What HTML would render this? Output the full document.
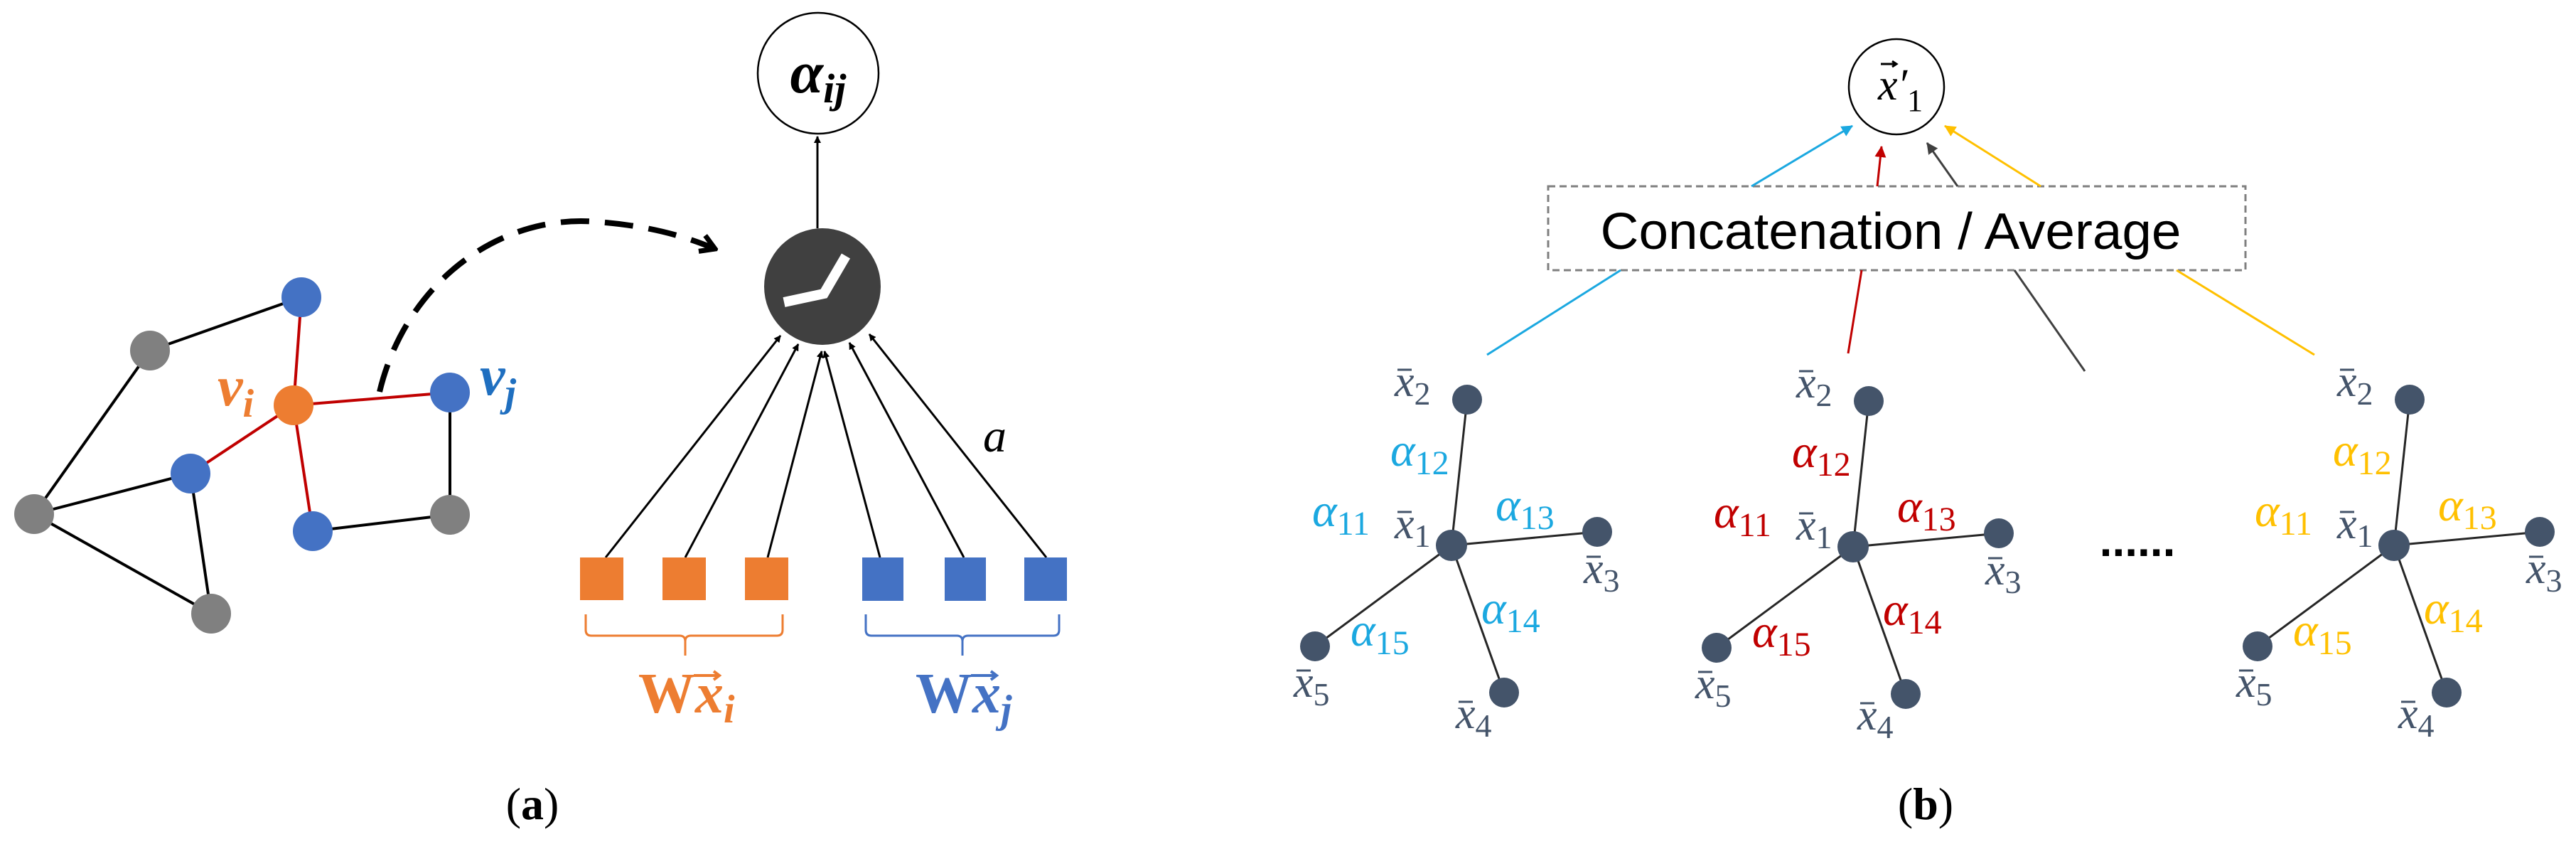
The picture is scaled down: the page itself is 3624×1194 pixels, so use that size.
<!DOCTYPE html>
<html><head><meta charset="utf-8"><style>
html,body{margin:0;padding:0;background:#fff;}
svg{display:block;}
</style></head><body>
<svg width="3624" height="1194" viewBox="0 0 3624 1194" xmlns="http://www.w3.org/2000/svg">
<defs>
<marker id="ak" markerWidth="10" markerHeight="10" refX="9" refY="5" orient="auto" markerUnits="userSpaceOnUse" viewBox="0 0 10 10"><path d="M0,0 L10,5 L0,10 z" fill="#000"/></marker>
<marker id="ab" markerWidth="16" markerHeight="16" refX="15" refY="8" orient="auto" markerUnits="userSpaceOnUse" viewBox="0 0 16 16"><path d="M0,0 L16,8 L0,16 z" fill="#1BA8E0"/></marker>
<marker id="ar" markerWidth="16" markerHeight="16" refX="15" refY="8" orient="auto" markerUnits="userSpaceOnUse" viewBox="0 0 16 16"><path d="M0,0 L16,8 L0,16 z" fill="#C00000"/></marker>
<marker id="ad" markerWidth="16" markerHeight="16" refX="15" refY="8" orient="auto" markerUnits="userSpaceOnUse" viewBox="0 0 16 16"><path d="M0,0 L16,8 L0,16 z" fill="#404040"/></marker>
<marker id="ay" markerWidth="16" markerHeight="16" refX="15" refY="8" orient="auto" markerUnits="userSpaceOnUse" viewBox="0 0 16 16"><path d="M0,0 L16,8 L0,16 z" fill="#FFC000"/></marker>
<marker id="ak2" markerWidth="30" markerHeight="30" refX="26" refY="15" orient="auto" markerUnits="userSpaceOnUse" viewBox="0 0 30 30"><path d="M6,3 L26,15 L6,27" fill="none" stroke="#000" stroke-width="7"/></marker>
</defs>

<!-- Panel (a) graph -->
<g stroke="#000" stroke-width="4">
<line x1="211" y1="493" x2="424" y2="418"/>
<line x1="211" y1="493" x2="48" y2="723"/>
<line x1="48" y1="723" x2="268" y2="666"/>
<line x1="48" y1="723" x2="297" y2="863"/>
<line x1="268" y1="666" x2="297" y2="863"/>
<line x1="440" y1="747" x2="633" y2="724"/>
<line x1="633" y1="552" x2="633" y2="724"/>
</g>
<g stroke="#C00000" stroke-width="4">
<line x1="413" y1="570" x2="424" y2="418"/>
<line x1="413" y1="570" x2="633" y2="552"/>
<line x1="413" y1="570" x2="268" y2="666"/>
<line x1="413" y1="570" x2="440" y2="747"/>
</g>
<g>
<circle cx="424" cy="418" r="28" fill="#4472C4"/>
<circle cx="211" cy="493" r="28" fill="#808080"/>
<circle cx="413" cy="570" r="28" fill="#ED7D31"/>
<circle cx="633" cy="552" r="28" fill="#4472C4"/>
<circle cx="268" cy="666" r="28" fill="#4472C4"/>
<circle cx="48" cy="723" r="28" fill="#808080"/>
<circle cx="440" cy="747" r="28" fill="#4472C4"/>
<circle cx="633" cy="724" r="28" fill="#808080"/>
<circle cx="297" cy="863" r="28" fill="#808080"/>
</g>
<text x="306" y="570" font-family="Liberation Serif, serif" font-style="italic" font-weight="bold" font-size="80" fill="#ED7D31">v<tspan font-size="56" dy="16">i</tspan></text>
<text x="675" y="555" font-family="Liberation Serif, serif" font-style="italic" font-weight="bold" font-size="80" fill="#1F6FC0">v<tspan font-size="56" dy="16">j</tspan></text>

<!-- dashed arc -->
<path d="M534,551 C570,400 700,300 840,312 C920,318 970,335 1006,350" fill="none" stroke="#000" stroke-width="8" stroke-dasharray="40,22" marker-end="url(#ak2)"/>

<!-- alpha_ij circle -->
<circle cx="1151" cy="103" r="85" fill="#fff" stroke="#000" stroke-width="2.5"/>
<text x="1151" y="130" text-anchor="middle" font-family="Liberation Serif, serif" font-style="italic" font-weight="bold" font-size="84" fill="#000">α<tspan font-size="58" dy="14">ij</tspan></text>
<line x1="1150" y1="321" x2="1150" y2="192" stroke="#000" stroke-width="3" marker-end="url(#ak)"/>

<!-- dark circle -->
<circle cx="1157" cy="403" r="82" fill="#404040"/>
<polyline points="1103,425 1159,413 1190,360" fill="none" stroke="#fff" stroke-width="14"/>

<!-- arrows from squares -->
<g stroke="#000" stroke-width="3" marker-end="url(#ak)">
<line x1="852" y1="784" x2="1098" y2="472"/>
<line x1="964" y1="784" x2="1123" y2="484"/>
<line x1="1080" y1="784" x2="1156" y2="494"/>
<line x1="1238" y1="784" x2="1160" y2="494"/>
<line x1="1356" y1="784" x2="1195" y2="482"/>
<line x1="1472" y1="784" x2="1223" y2="470"/>
</g>
<text x="1383" y="635" font-family="Liberation Serif, serif" font-style="italic" font-size="66" fill="#000">a</text>

<!-- squares -->
<g fill="#ED7D31">
<rect x="816" y="784" width="61" height="60"/>
<rect x="932" y="784" width="61" height="60"/>
<rect x="1048" y="784" width="61" height="60"/>
</g>
<g fill="#4472C4">
<rect x="1213" y="784" width="58" height="61"/>
<rect x="1329" y="784" width="58" height="61"/>
<rect x="1441" y="784" width="60" height="61"/>
</g>
<!-- braces -->
<path d="M824,864 v22 q0,8 8,8 h124 q8,0 8,8 v20 M964,902 q0,-8 8,-8 h121 q8,0 8,-8 v-22" fill="none" stroke="#ED7D31" stroke-width="3"/>
<path d="M1218,864 v22 q0,8 8,8 h120 q8,0 8,8 v20 M1354,902 q0,-8 8,-8 h120 q8,0 8,-8 v-22" fill="none" stroke="#4472C4" stroke-width="3"/>

<text x="898" y="1002" font-family="Liberation Serif, serif" font-weight="bold" font-size="80" fill="#ED7D31">W<tspan font-style="italic">x</tspan><tspan font-style="italic" font-size="56" dy="14">i</tspan></text>
<path d="M976,950 h36 M1004,944 l8,6 l-8,6" fill="none" stroke="#ED7D31" stroke-width="4"/>
<text x="1288" y="1002" font-family="Liberation Serif, serif" font-weight="bold" font-size="80" fill="#4472C4">W<tspan font-style="italic">x</tspan><tspan font-style="italic" font-size="56" dy="14">j</tspan></text>
<path d="M1366,950 h36 M1394,944 l8,6 l-8,6" fill="none" stroke="#4472C4" stroke-width="4"/>

<text x="749" y="1152" text-anchor="middle" font-family="Liberation Serif, serif" font-size="64" fill="#000">(<tspan font-weight="bold">a</tspan>)</text>

<!-- Panel (b) -->
<circle cx="2668" cy="122" r="67" fill="#fff" stroke="#000" stroke-width="2.5"/>
<text x="2642" y="140" font-family="Liberation Serif, serif" font-style="italic" font-size="62" fill="#000">x′<tspan font-style="normal" font-size="44" dy="16">1</tspan></text>
<path d="M2646,90 h22 M2662,86 l6,4 l-6,4" fill="none" stroke="#000" stroke-width="3"/>

<rect x="2178" y="262" width="981" height="118" fill="#fff" stroke="#7f7f7f" stroke-width="3" stroke-dasharray="10,6"/>
<text x="2660" y="350" text-anchor="middle" font-family="Liberation Sans, sans-serif" font-size="72" fill="#000" textLength="817" lengthAdjust="spacingAndGlyphs">Concatenation / Average</text>

<line x1="2464" y1="262" x2="2606" y2="177" stroke="#1BA8E0" stroke-width="3" marker-end="url(#ab)"/>
<line x1="2641" y1="262" x2="2647" y2="206" stroke="#C00000" stroke-width="3" marker-end="url(#ar)"/>
<line x1="2754" y1="262" x2="2711" y2="201" stroke="#404040" stroke-width="3" marker-end="url(#ad)"/>
<line x1="2871" y1="262" x2="2736" y2="177" stroke="#FFC000" stroke-width="3" marker-end="url(#ay)"/>

<line x1="2280" y1="380" x2="2092" y2="499" stroke="#1BA8E0" stroke-width="3"/>
<line x1="2619" y1="380" x2="2600" y2="497" stroke="#C00000" stroke-width="3"/>
<line x1="2834" y1="380" x2="2933" y2="522" stroke="#404040" stroke-width="3"/>
<line x1="3062" y1="380" x2="3256" y2="499" stroke="#FFC000" stroke-width="3"/>

<text x="3007" y="782" text-anchor="middle" font-family="Liberation Sans, sans-serif" font-weight="bold" font-size="64" fill="#000">......</text>

<!-- group 1 (blue) -->
<g>
<g stroke="#262626" stroke-width="3">
<line x1="2042" y1="767" x2="2064" y2="562"/>
<line x1="2042" y1="767" x2="2247" y2="748"/>
<line x1="2042" y1="767" x2="2116" y2="974"/>
<line x1="2042" y1="767" x2="1850" y2="909"/>
</g>
<g fill="#44546A">
<circle cx="2042" cy="767" r="22"/><circle cx="2064" cy="562" r="21"/><circle cx="2247" cy="748" r="21"/><circle cx="2116" cy="974" r="21"/><circle cx="1850" cy="909" r="21"/>
</g>
<g font-family="Liberation Serif, serif" font-style="italic" font-size="66" fill="#1BA8E0">
<text x="1956" y="655">α<tspan font-style="normal" font-size="48" dy="12">12</tspan></text>
<text x="1846" y="740">α<tspan font-style="normal" font-size="48" dy="12">11</tspan></text>
<text x="2104" y="732">α<tspan font-style="normal" font-size="48" dy="12">13</tspan></text>
<text x="2084" y="877">α<tspan font-style="normal" font-size="48" dy="12">14</tspan></text>
<text x="1900" y="908">α<tspan font-style="normal" font-size="48" dy="12">15</tspan></text>
</g>
<g font-family="Liberation Serif, serif" font-style="italic" font-size="62" fill="#44546A">
<text x="1962" y="557">x<tspan font-style="normal" font-size="46" dy="12">2</tspan></text>
<text x="1962" y="757">x<tspan font-style="normal" font-size="46" dy="12">1</tspan></text>
<text x="2228" y="820">x<tspan font-style="normal" font-size="46" dy="12">3</tspan></text>
<text x="1820" y="980">x<tspan font-style="normal" font-size="46" dy="12">5</tspan></text>
<text x="2048" y="1024">x<tspan font-style="normal" font-size="46" dy="12">4</tspan></text>
</g>
<g stroke="#44546A" stroke-width="3">
<line x1="1966" y1="520" x2="1986" y2="520"/><line x1="1966" y1="720" x2="1986" y2="720"/><line x1="2232" y1="783" x2="2252" y2="783"/><line x1="1824" y1="943" x2="1844" y2="943"/><line x1="2052" y1="987" x2="2072" y2="987"/>
</g>
</g>

<!-- group 2 (red) -->
<g transform="translate(565,2)">
<g stroke="#262626" stroke-width="3">
<line x1="2042" y1="767" x2="2064" y2="562"/>
<line x1="2042" y1="767" x2="2247" y2="748"/>
<line x1="2042" y1="767" x2="2116" y2="974"/>
<line x1="2042" y1="767" x2="1850" y2="909"/>
</g>
<g fill="#44546A">
<circle cx="2042" cy="767" r="22"/><circle cx="2064" cy="562" r="21"/><circle cx="2247" cy="748" r="21"/><circle cx="2116" cy="974" r="21"/><circle cx="1850" cy="909" r="21"/>
</g>
<g font-family="Liberation Serif, serif" font-style="italic" font-size="66" fill="#C00000">
<text x="1956" y="655">α<tspan font-style="normal" font-size="48" dy="12">12</tspan></text>
<text x="1846" y="740">α<tspan font-style="normal" font-size="48" dy="12">11</tspan></text>
<text x="2104" y="732">α<tspan font-style="normal" font-size="48" dy="12">13</tspan></text>
<text x="2084" y="877">α<tspan font-style="normal" font-size="48" dy="12">14</tspan></text>
<text x="1900" y="908">α<tspan font-style="normal" font-size="48" dy="12">15</tspan></text>
</g>
<g font-family="Liberation Serif, serif" font-style="italic" font-size="62" fill="#44546A">
<text x="1962" y="557">x<tspan font-style="normal" font-size="46" dy="12">2</tspan></text>
<text x="1962" y="757">x<tspan font-style="normal" font-size="46" dy="12">1</tspan></text>
<text x="2228" y="820">x<tspan font-style="normal" font-size="46" dy="12">3</tspan></text>
<text x="1820" y="980">x<tspan font-style="normal" font-size="46" dy="12">5</tspan></text>
<text x="2048" y="1024">x<tspan font-style="normal" font-size="46" dy="12">4</tspan></text>
</g>
<g stroke="#44546A" stroke-width="3">
<line x1="1966" y1="520" x2="1986" y2="520"/><line x1="1966" y1="720" x2="1986" y2="720"/><line x1="2232" y1="783" x2="2252" y2="783"/><line x1="1824" y1="943" x2="1844" y2="943"/><line x1="2052" y1="987" x2="2072" y2="987"/>
</g>
</g>

<!-- group 3 (yellow) -->
<g transform="translate(1326,0)">
<g stroke="#262626" stroke-width="3">
<line x1="2042" y1="767" x2="2064" y2="562"/>
<line x1="2042" y1="767" x2="2247" y2="748"/>
<line x1="2042" y1="767" x2="2116" y2="974"/>
<line x1="2042" y1="767" x2="1850" y2="909"/>
</g>
<g fill="#44546A">
<circle cx="2042" cy="767" r="22"/><circle cx="2064" cy="562" r="21"/><circle cx="2247" cy="748" r="21"/><circle cx="2116" cy="974" r="21"/><circle cx="1850" cy="909" r="21"/>
</g>
<g font-family="Liberation Serif, serif" font-style="italic" font-size="66" fill="#FFC000">
<text x="1956" y="655">α<tspan font-style="normal" font-size="48" dy="12">12</tspan></text>
<text x="1846" y="740">α<tspan font-style="normal" font-size="48" dy="12">11</tspan></text>
<text x="2104" y="732">α<tspan font-style="normal" font-size="48" dy="12">13</tspan></text>
<text x="2084" y="877">α<tspan font-style="normal" font-size="48" dy="12">14</tspan></text>
<text x="1900" y="908">α<tspan font-style="normal" font-size="48" dy="12">15</tspan></text>
</g>
<g font-family="Liberation Serif, serif" font-style="italic" font-size="62" fill="#44546A">
<text x="1962" y="557">x<tspan font-style="normal" font-size="46" dy="12">2</tspan></text>
<text x="1962" y="757">x<tspan font-style="normal" font-size="46" dy="12">1</tspan></text>
<text x="2228" y="820">x<tspan font-style="normal" font-size="46" dy="12">3</tspan></text>
<text x="1820" y="980">x<tspan font-style="normal" font-size="46" dy="12">5</tspan></text>
<text x="2048" y="1024">x<tspan font-style="normal" font-size="46" dy="12">4</tspan></text>
</g>
<g stroke="#44546A" stroke-width="3">
<line x1="1966" y1="520" x2="1986" y2="520"/><line x1="1966" y1="720" x2="1986" y2="720"/><line x1="2232" y1="783" x2="2252" y2="783"/><line x1="1824" y1="943" x2="1844" y2="943"/><line x1="2052" y1="987" x2="2072" y2="987"/>
</g>
</g>

<text x="2709" y="1152" text-anchor="middle" font-family="Liberation Serif, serif" font-size="64" fill="#000">(<tspan font-weight="bold">b</tspan>)</text>
</svg>
</body></html>
